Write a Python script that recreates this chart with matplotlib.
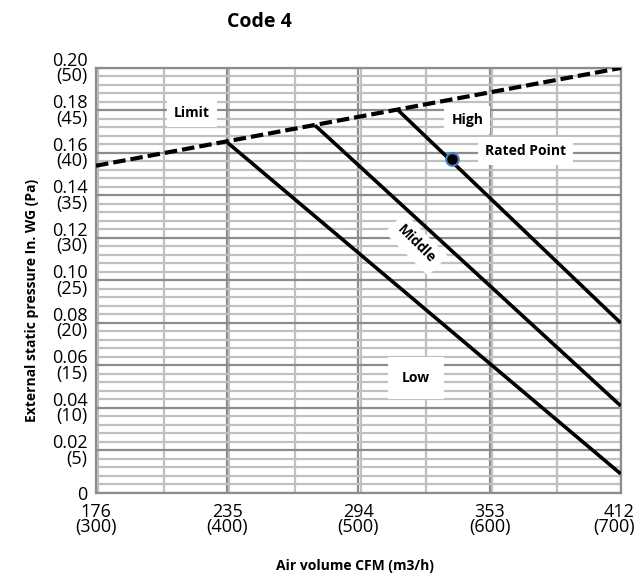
import numpy as np
import matplotlib
matplotlib.use("Agg")
import matplotlib.pyplot as plt
from matplotlib.ticker import MultipleLocator, FixedLocator
from matplotlib.transforms import ScaledTranslation

plt.rcParams.update({
    "font.family": ["Liberation Sans Narrow", "Open Sans", "DejaVu Sans"],
})

# ── data ───────────────────────────────────────────────────────────────────────
x_ticks = [176, 235, 294, 353, 412]
x_tick_m3h = [300, 400, 500, 600, 700]
y_ticks = [0.0, 0.02, 0.04, 0.06, 0.08, 0.10, 0.12, 0.14, 0.16, 0.18, 0.20]
y_tick_pa = [0, 5, 10, 15, 20, 25, 30, 35, 40, 45, 50]

limit_cfm = [176, 412]
limit_p = [0.154, 0.200]
low_cfm = [235, 412]
low_p = [0.165, 0.009]
mid_cfm = [274.5, 412]
mid_p = [0.173, 0.041]
high_cfm = [312, 412]
high_p = [0.180, 0.080]
rated_cfm = [336]
rated_p = [0.157]

# ── figure ─────────────────────────────────────────────────────────────────────
fig = plt.figure(figsize=(6.36, 5.81), dpi=100)
ax = fig.add_axes([0.151, 0.1515, 0.825, 0.7315])
ax.set_xlim(176, 412)
ax.set_ylim(0, 0.20)

MAJ = "#8c8c8c"
MIN = "#c0c0c0"

ax.xaxis.set_major_locator(FixedLocator(x_ticks))
ax.xaxis.set_minor_locator(MultipleLocator(29.5))
ax.yaxis.set_major_locator(FixedLocator(y_ticks))
ax.yaxis.set_minor_locator(MultipleLocator(0.004))
ax.grid(which="minor", color=MIN, lw=1.6, zorder=0)
ax.grid(which="major", color=MAJ, lw=1.6, zorder=0)
ax.set_axisbelow(True)
for sp in ax.spines.values():
    sp.set_color(MAJ)
    sp.set_linewidth(1.6)
ax.tick_params(which="both", length=0)

ax.set_xticklabels([f"{c}\n({m})" for c, m in zip(x_ticks, x_tick_m3h)],
                   fontsize=13, linespacing=0.8)
ylabels = [f"{p:.2f}\n({pa})" for p, pa in zip(y_ticks, y_tick_pa)]
ylabels[0] = "0"
ax.set_yticklabels(ylabels, fontsize=13, linespacing=0.8)
ax.tick_params(axis="x", pad=7)
ax.tick_params(axis="y", pad=6)

# last x label sits flush against the right edge
last = ax.get_xticklabels()[-1]
last.set_horizontalalignment("right")
last.set_transform(last.get_transform() + ScaledTranslation(0.14, 0, fig.dpi_scale_trans))

# ── curves ─────────────────────────────────────────────────────────────────────
ax.plot(limit_cfm, limit_p, color="black", lw=3, ls=(0, (3, 1.2)), zorder=3)
for xs, ys in [(low_cfm, low_p), (mid_cfm, mid_p), (high_cfm, high_p)]:
    ax.plot(xs, ys, color="black", lw=2.6, solid_capstyle="butt", zorder=3)
ax.plot(rated_cfm, rated_p, "o", ms=9, mfc="black", mec="#4a7ebb", mew=1.5, zorder=4)

box = dict(facecolor="white", edgecolor="none", pad=5)
lab = dict(fontsize=10, fontweight="bold", family=["Open Sans", "DejaVu Sans"],
           ha="center", va="center", bbox=box, zorder=5)
ax.text(219, 0.179, "Limit", **lab)
ax.text(343, 0.1755, "High", **lab)
ax.text(369, 0.161, "Rated Point", **lab)
ax.text(320, 0.117, "Middle", rotation=-45, **lab)
ax.text(320, 0.054, "Low", **{**lab, "bbox": dict(facecolor="white", edgecolor="none", pad=10)})

fig.text(259 / 636, 1 - 22 / 581, "Code 4", fontsize=14, fontweight="bold",
         family=["Open Sans", "DejaVu Sans"], ha="center", va="center")
fig.text(355 / 636, 1 - 566 / 581, "Air volume CFM (m3/h)", fontsize=10, fontweight="bold",
         family=["Open Sans", "DejaVu Sans"], ha="center", va="center")
fig.text(32 / 636, 1 - 300 / 581, "External static pressure In. WG (Pa)", fontsize=10,
         fontweight="bold", family=["Open Sans", "DejaVu Sans"], rotation=90,
         ha="center", va="center")

fig.savefig("out.png", dpi=100)
